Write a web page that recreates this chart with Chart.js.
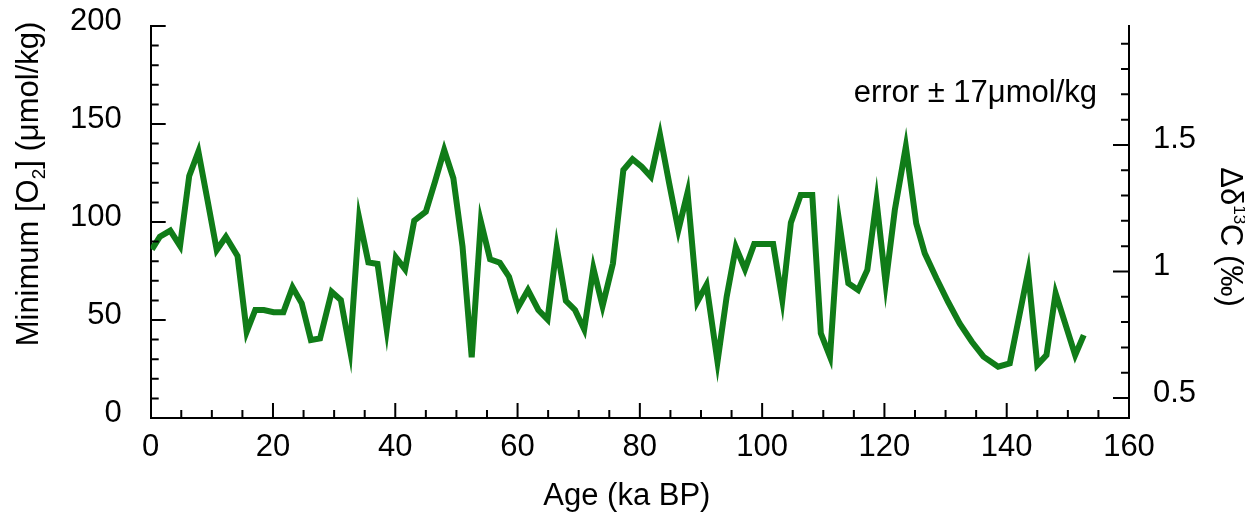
<!DOCTYPE html>
<html>
<head>
<meta charset="utf-8">
<script src="https://cdn.jsdelivr.net/npm/chart.js@4/dist/chart.umd.min.js"></script>
<style>
  body { margin: 0; background: #fff; }
  canvas { display: block; }
</style>
</head>
<body>
<canvas id="o2_chart" width="1245" height="515"></canvas>
<script>
// age (ka BP) and minimum O2 (umol/kg)
const ages = [0.2, 1.5, 3.2, 4.8, 6.3, 7.8, 9.3, 10.8, 12.3, 14.2,
    15.7, 17.1, 18.5, 20.1, 21.7, 23.2, 24.7, 26.2, 27.7, 29.6,
    31.1, 32.6, 34.1, 35.6, 37.1, 38.6, 40.1, 41.6, 43.1, 45.0,
    46.5, 48.0, 49.5, 51.0, 52.5, 54.0, 55.5, 57.1, 58.6, 60.1,
    61.7, 63.4, 64.9, 66.4, 67.9, 69.4, 70.9, 72.4, 73.9, 75.6,
    77.3, 78.8, 80.3, 81.8, 83.3, 84.8, 86.3, 87.8, 89.4, 90.9,
    92.7, 94.2, 95.7, 97.2, 98.7, 100.3, 101.8, 103.3, 104.7, 106.3,
    108.2, 109.6, 111.1, 112.6, 114.1, 115.7, 117.2, 118.7, 120.2, 121.7,
    123.5, 125.2, 126.6, 128.5, 130.4, 132.3, 134.3, 136.2, 138.6, 140.5,
    143.5, 145.0, 146.5, 148.0, 151.2, 152.6];
const minO2 = [86, 92.5, 95.6, 87.8, 123.5, 135.9, 111, 85.7, 92.5, 82.7,
    44, 55.1, 55.1, 54, 54, 66.7, 58.5, 39.8, 40.6, 64.4,
    60.2, 34.7, 101.9, 79.4, 78.6, 45.2, 82, 75.9, 100.7, 105.3,
    120.6, 136.7, 122.3, 87.4, 31, 100.2, 81, 79.2, 72.1, 56.5,
    65.3, 55.1, 50.3, 87.1, 59.8, 55.1, 45.2, 76.4, 57.1, 78.9,
    126.5, 132, 128.2, 123.1, 144.4, 119.7, 95.9, 115, 59.3, 67.9,
    28.7, 61.9, 87.1, 75.9, 88.8, 88.8, 88.8, 60.2, 99.6, 113.8,
    113.8, 43.2, 31.3, 100.2, 68.7, 65.3, 75.5, 110.9, 68.7, 106.1,
    138.4, 99.3, 84, 71.3, 59.3, 48.3, 38.9, 31.3, 26.2, 27.9,
    74.6, 27, 32.1, 63.6, 32.1, 42.3];

const d13cTicks = [0.5, 1, 1.5];

const FONT = "'Liberation Sans', Arial, sans-serif";
Chart.defaults.font.family = FONT;
Chart.defaults.font.size = 31;
Chart.defaults.color = '#000';

// inward tick marks, long on the major values
const tickMarks = {
    id: 'tickMarks',
    afterDatasetsDraw(chart) {
        const {ctx, chartArea: a, scales: {x, y, y2}} = chart;
        ctx.save();
        ctx.strokeStyle = '#000';
        ctx.lineWidth = 2;
        ctx.beginPath();
        for (let v = 5; v < 160; v += 5) {
            const px = x.getPixelForValue(v);
            ctx.moveTo(px, a.bottom);
            ctx.lineTo(px, a.bottom - (v % 20 === 0 ? 15 : 8));
        }
        for (let v = 10; v <= 200; v += 10) {
            const py = y.getPixelForValue(v);
            ctx.moveTo(a.left, py);
            ctx.lineTo(a.left + (v % 50 === 0 ? 15 : 8), py);
        }
        for (let i = 5; i <= 19; i++) {
            const py = y2.getPixelForValue(i / 10);
            ctx.moveTo(a.right, py);
            ctx.lineTo(a.right - (i % 5 === 0 ? 16 : 8), py);
        }
        ctx.stroke();
        ctx.restore();
    }
};

// draws a run of [text, size factor, baseline shift] pieces centred on 0
function drawPieces(ctx, pieces) {
    let total = 0;
    pieces.forEach(p => {
        ctx.font = Math.round(31 * p[1]) + 'px ' + FONT;
        total += ctx.measureText(p[0]).width;
    });
    let cx = -total / 2;
    pieces.forEach(p => {
        ctx.font = Math.round(31 * p[1]) + 'px ' + FONT;
        ctx.fillText(p[0], cx, p[2]);
        cx += ctx.measureText(p[0]).width;
    });
}

const labelsPlugin = {
    id: 'labelsPlugin',
    afterDraw(chart) {
        const {ctx, chartArea: a} = chart;
        ctx.save();
        ctx.fillStyle = '#000';
        ctx.textBaseline = 'alphabetic';

        // left axis title
        ctx.save();
        ctx.translate(38, (a.top + a.bottom) / 2 - 38);
        ctx.rotate(-Math.PI / 2);
        drawPieces(ctx, [['Minimum [O', 1, 0], ['2', 0.62, 7], ['] (\u03bcmol/kg)', 1, 0]]);
        ctx.restore();

        // right axis title
        ctx.save();
        ctx.translate(1221, (a.top + a.bottom) / 2 + 15);
        ctx.rotate(Math.PI / 2);
        drawPieces(ctx, [['\u0394\u03b4', 1, 0], ['13', 0.55, -13], ['C (\u2030)', 1, 0]]);
        ctx.restore();

        // x axis title
        ctx.save();
        ctx.translate((a.left + a.right) / 2 - 13, 505);
        drawPieces(ctx, [['Age (ka BP)', 1, 0]]);
        ctx.restore();

        // error note
        ctx.font = '31px ' + FONT;
        ctx.textAlign = 'right';
        ctx.fillText('error \u00b1 17\u03bcmol/kg', 1097, 102);
        ctx.restore();
    }
};

const fitY = w => s => { s.width = w; s.paddingTop = 0; s.paddingBottom = 0; };

const ctx = document.getElementById('o2_chart').getContext('2d');

new Chart(ctx, {
    type: 'line',
    data: {
        labels: ages,
        datasets: [{
            label: 'Minimum O2',
            data: ages.map((a, i) => ({x: a, y: minO2[i]})),
            borderColor: '#107c18',
            borderWidth: 6,
            borderJoinStyle: 'miter',
            pointRadius: 0,
            tension: 0,
            fill: false,
            yAxisID: 'y'
        }]
    },
    options: {
        responsive: false,
        animation: false,
        layout: { padding: { top: 26, left: 0, right: 0, bottom: 0 } },
        plugins: {
            legend: { display: false },
            tooltip: { enabled: false }
        },
        scales: {
            x: {
                type: 'linear',
                position: 'bottom',
                min: 0,
                max: 160,
                grid: { display: false, drawTicks: false },
                border: { display: true, color: '#000', width: 2 },
                ticks: { stepSize: 20, padding: 11, maxRotation: 0 },
                afterFit: s => { s.height = 97; s.paddingLeft = 0; s.paddingRight = 0; }
            },
            y: {
                type: 'linear',
                position: 'left',
                min: 0,
                max: 200,
                grid: { display: false, drawTicks: false },
                border: { display: true, color: '#000', width: 2 },
                ticks: { stepSize: 50, padding: 29, labelOffset: -5 },
                afterFit: fitY(150.7)
            },
            y2: {
                type: 'linear',
                position: 'right',
                min: 0.421,
                max: 1.970,
                grid: { display: false, drawTicks: false },
                border: { display: true, color: '#000', width: 2 },
                afterBuildTicks: s => { s.ticks = d13cTicks.map(v => ({value: v})); },
                ticks: {
                    padding: 24,
                    labelOffset: -5,
                    callback: v => String(v)
                },
                afterFit: fitY(116)
            }
        }
    },
    plugins: [tickMarks, labelsPlugin]
});
</script>
</body>
</html>
